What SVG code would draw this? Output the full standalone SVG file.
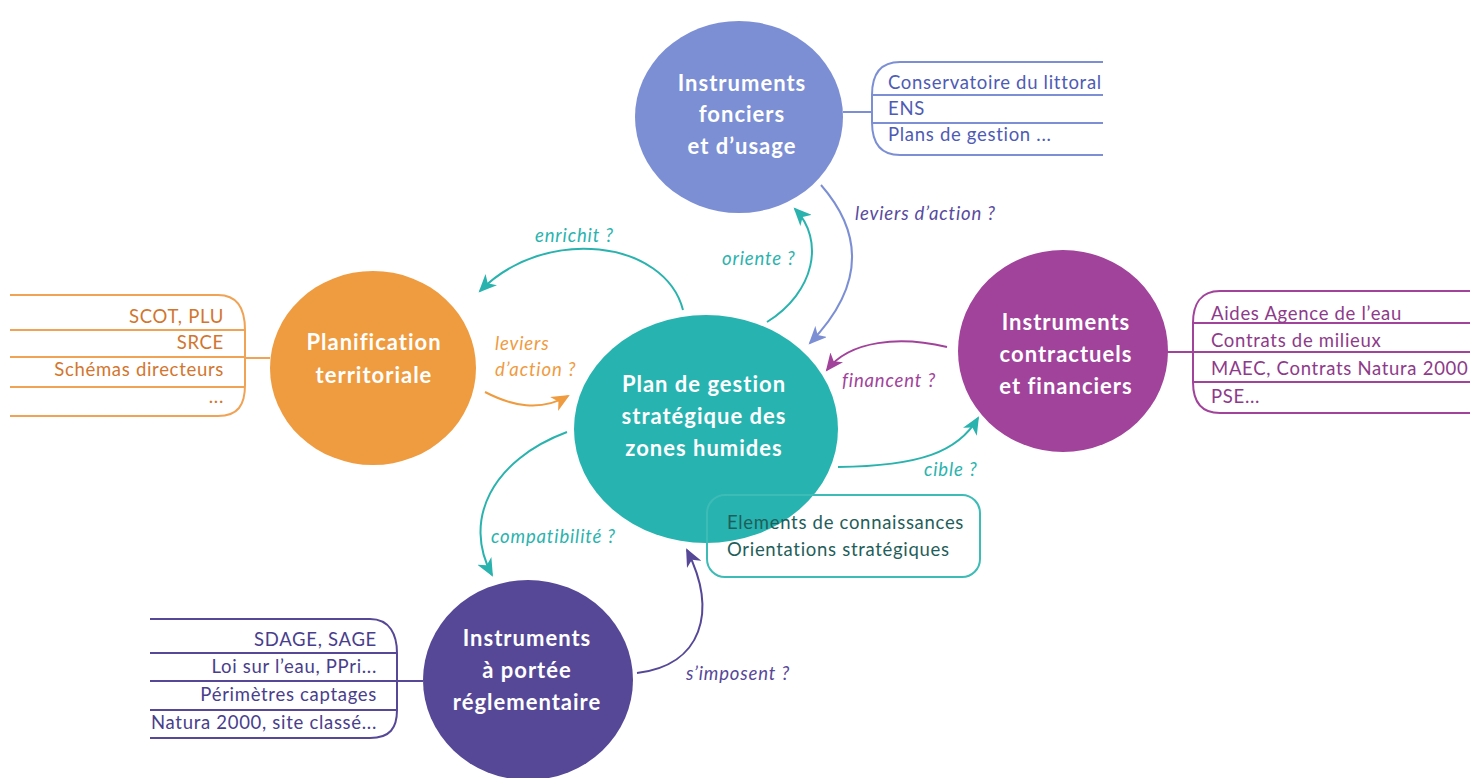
<svg xmlns="http://www.w3.org/2000/svg" width="1477" height="778" viewBox="0 0 1477 778">
<style>
.title{font-family:Lato,"Open Sans","Liberation Sans",sans-serif;font-weight:bold;font-size:22px;letter-spacing:1px;fill:#fff;text-anchor:middle;}
.item{font-family:Lato,"Open Sans","Liberation Sans",sans-serif;font-size:18.5px;letter-spacing:0.7px;}
.lbl{font-family:Lato,"Open Sans","Liberation Sans",sans-serif;font-style:italic;font-size:18.5px;letter-spacing:0.85px;}
.ln{fill:none;stroke-width:2;}
.arr{fill:none;stroke-width:2;}
</style>
<defs>
<marker id="mTeal" markerUnits="userSpaceOnUse" markerWidth="20" markerHeight="16" refX="16" refY="8" orient="auto"><path d="M0,0 L18,8 L0,16 L5,8 z" fill="#2AB3AE"/></marker>
<marker id="mBlue" markerUnits="userSpaceOnUse" markerWidth="20" markerHeight="16" refX="16" refY="8" orient="auto"><path d="M0,0 L18,8 L0,16 L5,8 z" fill="#7C8FD4"/></marker>
<marker id="mMag" markerUnits="userSpaceOnUse" markerWidth="20" markerHeight="16" refX="16" refY="8" orient="auto"><path d="M0,0 L18,8 L0,16 L5,8 z" fill="#A1429B"/></marker>
<marker id="mOr" markerUnits="userSpaceOnUse" markerWidth="20" markerHeight="16" refX="16" refY="8" orient="auto"><path d="M0,0 L18,8 L0,16 L5,8 z" fill="#EF9B3F"/></marker>
<marker id="mPur" markerUnits="userSpaceOnUse" markerWidth="20" markerHeight="16" refX="16" refY="8" orient="auto"><path d="M0,0 L18,8 L0,16 L5,8 z" fill="#564897"/></marker>
</defs>
<rect width="1477" height="778" fill="#fff"/>

<g id="connectors">
<path class="arr" stroke="#2AB3AE" d="M683,310 C665,240 545,225 480,291" marker-end="url(#mTeal)"/>
<path class="arr" stroke="#2AB3AE" d="M767,322 C815,292 825,240 795,209" marker-end="url(#mTeal)"/>
<path class="arr" stroke="#7C8FD4" d="M821,185 C862,232 866,285 810,343" marker-end="url(#mBlue)"/>
<path class="arr" stroke="#A1429B" d="M947,347 C900,336 850,340 827,370" marker-end="url(#mMag)"/>
<path class="arr" stroke="#2AB3AE" d="M838,467 C920,466 958,452 978,418" marker-end="url(#mTeal)"/>
<path class="arr" stroke="#EF9B3F" d="M485,392 C512,406 540,412 568,396" marker-end="url(#mOr)"/>
<path class="arr" stroke="#2AB3AE" d="M567,432 C492,460 462,520 492,575" marker-end="url(#mTeal)"/>
<path class="arr" stroke="#564897" d="M637,673 C702,665 718,612 687,550" marker-end="url(#mPur)"/>
<text class="lbl" x="535" y="242" fill="#2AB3AE">enrichit ?</text>
<text class="lbl" x="722" y="265" fill="#2AB3AE">oriente ?</text>
<text class="lbl" x="855" y="220" fill="#584A9E">leviers d’action ?</text>
<text class="lbl" x="842" y="387" fill="#A1429B">financent ?</text>
<text class="lbl" x="924" y="476" fill="#2AB3AE">cible ?</text>
<text class="lbl" x="495" y="350" fill="#EF9B3F">leviers</text>
<text class="lbl" x="495" y="376" fill="#EF9B3F">d’action ?</text>
<text class="lbl" x="491" y="543" fill="#2AB3AE">compatibilité ?</text>
<text class="lbl" x="686" y="680" fill="#564897">s’imposent ?</text>
</g>

<g id="center">
<ellipse cx="706" cy="429" rx="132" ry="114" fill="#27B3B0"/>
<text class="title" x="704" y="392">Plan de gestion</text>
<text class="title" x="704" y="424">stratégique des</text>
<text class="title" x="704" y="456">zones humides</text>
</g>

<g id="center-box">
<rect x="707" y="495" width="273" height="82" rx="18" fill="none" stroke="#3DBBB6" stroke-width="2"/>
<text class="item" x="727" y="529" fill="#1F5E5A">Elements de connaissances</text>
<text class="item" x="727" y="556" fill="#1F5E5A">Orientations stratégiques</text>
</g>

<g id="foncier">
<ellipse cx="739" cy="117" rx="104" ry="96" fill="#7C8FD4"/>
<text class="title" x="742" y="91">Instruments</text>
<text class="title" x="742" y="122">fonciers</text>
<text class="title" x="742" y="154">et d’usage</text>
<g stroke="#7C8FD4" class="ln">
<path d="M843,112 H872"/>
<path d="M1103,62 H900 C880,62 872,75 872,95 V122 C872,142 880,155 900,155 H1103"/>
<path d="M872,95 H1103 M872,123 H1103"/>
</g>
<text class="item" x="888" y="89" fill="#4E5BB5">Conservatoire du littoral</text>
<text class="item" x="888" y="115" fill="#4E5BB5">ENS</text>
<text class="item" x="888" y="141" fill="#4E5BB5">Plans de gestion ...</text>
</g>

<g id="planification">
<ellipse cx="373" cy="368" rx="103" ry="97" fill="#EF9B3F"/>
<text class="title" x="374" y="350">Planification</text>
<text class="title" x="374" y="383">territoriale</text>
<g stroke="#F0A355" class="ln">
<path d="M245,358 H270"/>
<path d="M10,295 H218 C238,295 245,310 245,330 V385 C245,405 238,416 218,416 H10"/>
<path d="M10,330 H245 M10,357 H245 M10,387 H244"/>
</g>
<text class="item" x="224" y="323" fill="#D2762E" text-anchor="end">SCOT, PLU</text>
<text class="item" x="224" y="349" fill="#D2762E" text-anchor="end">SRCE</text>
<text class="item" x="224" y="376" fill="#D2762E" text-anchor="end">Schémas directeurs</text>
<text class="item" x="224" y="403" fill="#D2762E" text-anchor="end">...</text>
</g>

<g id="contractuels">
<ellipse cx="1063" cy="351" rx="105" ry="101" fill="#A1429B"/>
<text class="title" x="1066" y="330">Instruments</text>
<text class="title" x="1066" y="362">contractuels</text>
<text class="title" x="1066" y="394">et financiers</text>
<g stroke="#A1429B" class="ln">
<path d="M1167,352 H1193"/>
<path d="M1470,291 H1220 C1200,291 1193,305 1193,323 V382 C1193,400 1200,413 1220,413 H1470"/>
<path d="M1193,323 H1470 M1193,352 H1470 M1193,382 H1470"/>
</g>
<text class="item" x="1211" y="320" fill="#8E3A8A">Aides Agence de l’eau</text>
<text class="item" x="1211" y="347" fill="#8E3A8A">Contrats de milieux</text>
<text class="item" x="1211" y="375" fill="#8E3A8A">MAEC, Contrats Natura 2000</text>
<text class="item" x="1211" y="403" fill="#8E3A8A">PSE...</text>
</g>

<g id="reglementaire">
<ellipse cx="528" cy="680" rx="105" ry="100" fill="#564897"/>
<text class="title" x="527" y="646">Instruments</text>
<text class="title" x="527" y="678">à portée</text>
<text class="title" x="527" y="710">réglementaire</text>
<g stroke="#564897" class="ln">
<path d="M397,681 H423"/>
<path d="M150,619 H370 C390,619 397,635 397,653 V710 C397,728 390,738 370,738 H150"/>
<path d="M150,653 H397 M150,681 H397 M150,710 H397"/>
</g>
<text class="item" x="377" y="646" fill="#493E8C" text-anchor="end">SDAGE, SAGE</text>
<text class="item" x="377" y="673" fill="#493E8C" text-anchor="end">Loi sur l’eau, PPri...</text>
<text class="item" x="377" y="701" fill="#493E8C" text-anchor="end">Périmètres captages</text>
<text class="item" x="377" y="729" fill="#493E8C" text-anchor="end">Natura 2000, site classé...</text>
</g>
</svg>
